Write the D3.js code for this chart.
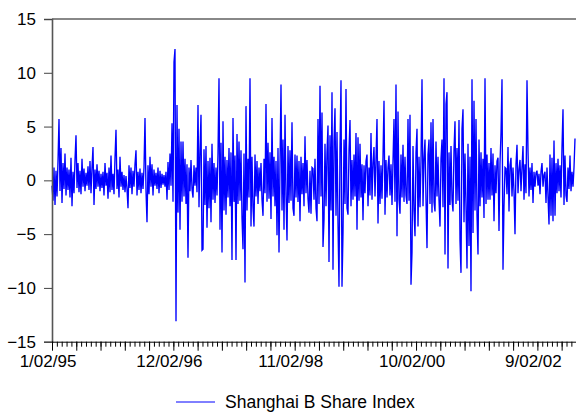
<!DOCTYPE html>
<html>
<head>
<meta charset="utf-8">
<script src="https://cdn.jsdelivr.net/npm/d3@7/dist/d3.min.js"></script>
<style>
  html, body { margin: 0; padding: 0; background: #fff; }
  svg { display: block; font-family: "Liberation Sans", Arial, sans-serif; }
</style>
</head>
<body>
<svg id="chart" width="576" height="417"></svg>
<script>
// Daily returns of the Shanghai B Share Index (percent), one value per
// block of trading days, 1/02/95 onward.
const seriesName = "Shanghai B Share Index";
const returns = [
  // 1995 - late 1996
  -0.5,-1.9,1.2,-2.3,0.9,-1.5,1.8,5.7,-1.0,3.0,
  -2.1,1.6,-0.8,2.5,-1.4,1.2,-0.9,1.0,-1.6,2.1,
  -2.4,0.8,-1.2,1.9,4.2,-0.7,1.6,-1.1,0.9,-1.3,
  2.0,-0.6,1.1,-1.0,0.7,-0.5,1.3,-0.9,1.8,-1.2,
  1.2,3.1,-2.3,1.0,-0.8,1.5,-0.6,0.9,-1.0,0.6,
  -0.7,0.8,-1.4,1.6,-0.5,0.7,-1.7,1.2,-1.1,2.3,
  -0.9,0.6,-1.3,2.1,4.7,-0.8,1.0,-1.6,2.2,-0.6,
  0.8,-0.9,0.5,-1.1,0.4,-0.8,-2.6,1.4,-0.7,1.2,
  -1.3,0.9,-0.6,1.5,2.8,-1.4,0.8,-0.9,1.1,-1.2,
  0.7,-0.8,1.2,5.8,-1.0,-3.9,1.4,-1.3,2.2,-0.6,
  1.5,-1.4,1.0,-0.5,0.7,-0.8,1.2,-1.2,0.9,-0.7,
  0.6,-0.4,0.5,-0.6,0.8,-1.8,1.7,-0.9,2.5,-0.5,
  // December 1996 shock
  5.3,-2.0,11.0,12.2,-13.1,7.0,-3.0,4.8,-4.6,3.6,-2.0,
  // 1997 - 1998
  3.6,-1.5,2.0,-2.2,1.5,-7.2,1.2,-1.0,1.9,-0.8,
  -1.6,1.4,-0.5,1.2,-1.1,7.0,-2.5,2.8,6.1,-6.5,
  -6.4,2.9,-2.3,3.2,-4.4,1.8,-2.6,2.1,-3.9,3.4,
  -1.8,1.6,-2.1,1.2,-1.4,2.5,9.5,-4.6,3.5,-6.7,
  5.5,-2.8,2.2,-3.2,1.9,-1.6,3.0,-2.4,2.6,-7.4,
  5.8,-2.0,2.3,-7.4,4.3,-2.2,3.6,-1.9,2.8,-3.5,
  -6.4,2.5,-9.5,6.9,-2.8,2.0,-1.6,9.5,-4.3,2.2,
  -2.5,-4.3,2.4,-1.5,1.8,-2.2,1.2,-1.0,1.6,-1.8,
  -3.3,2.0,-1.2,7.1,-2.0,3.5,-1.7,2.6,-3.6,5.8,
  -1.5,2.2,-2.4,1.8,-5.1,3.0,-6.7,1.5,8.9,-2.8,
  3.8,-4.6,6.1,-1.4,-5.6,3.2,-2.1,2.8,-1.9,5.4,
  -2.6,-3.3,2.4,-1.6,2.3,-2.0,1.8,-3.8,2.2,-1.3,
  1.6,-2.4,4.1,-1.2,1.9,-1.7,-3.0,
  // 1999 - 2000
  0.9,-3.1,1.2,1.1,-1.8,2.0,-2.6,-3.8,5.7,-2.2,
  8.8,-1.5,6.3,-6.2,-3.7,3.4,-2.4,2.6,5.1,-7.6,
  4.2,-2.8,8.2,-8.3,3.6,6.7,-3.3,4.5,-4.0,-9.9,
  3.0,9.3,-9.9,-4.9,3.8,-2.2,8.5,-2.6,-3.2,2.8,
  5.6,-2.4,1.9,-1.8,2.4,-1.5,4.4,-4.6,4.0,-1.9,
  3.4,-1.6,1.5,-3.7,1.4,-1.2,1.8,2.4,-2.4,1.2,
  -1.4,4.4,-1.8,1.6,3.1,-1.5,2.0,5.7,-4.0,1.8,
  -2.2,1.4,-1.7,2.2,7.4,-3.2,1.9,-1.6,1.2,2.3,
  -1.4,1.5,-2.3,1.8,5.7,-2.0,8.9,-5.2,6.4,-1.8,
  -3.1,2.4,-1.6,3.3,-2.0,2.2,-1.4,-2.2,5.7,-1.9,
  6.1,-9.7,-6.7,3.2,-2.8,-5.2,2.6,4.8,-4.3,2.2,
  -2.5,1.8,9.4,-2.4,2.0,3.8,-1.8,-6.3,2.4,3.8,
  -2.2,5.4,-3.0,5.7,-2.0,-2.9,3.6,-1.5,2.2,-1.8,
  -4.3,2.0,
  // 2001 - early 2003
  3.8,-2.5,9.5,-6.9,7.1,8.2,-8.2,2.6,-2.3,3.2,
  -1.8,-2.9,2.8,5.5,-2.2,3.0,-1.9,5.6,-5.6,-8.6,
  4.8,6.6,-3.9,2.5,-2.4,-8.2,3.4,-6.1,2.2,-10.3,
  9.4,-4.9,7.4,-2.8,5.7,-3.2,-6.9,3.8,-2.4,2.6,
  -1.6,2.0,-3.5,9.5,-2.2,2.4,-1.8,1.6,-1.8,3.0,
  -1.4,2.5,-3.8,1.4,-1.2,1.8,2.1,-4.7,1.6,4.4,
  9.4,-8.3,-2.4,1.2,1.1,-1.3,3.1,-2.9,1.4,2.1,
  -1.5,1.2,-1.0,-5.0,1.5,3.3,-1.2,1.0,1.9,-1.0,
  1.2,3.2,-1.8,1.5,-1.2,9.3,2.8,-1.5,1.2,-0.9,
  1.6,-2.1,0.8,-0.6,0.7,0.9,-0.5,0.6,-1.3,0.8,
  1.6,-0.6,0.5,0.8,-2.1,1.2,-1.5,-4.1,2.4,-3.3,
  2.1,-3.8,3.7,-3.3,1.6,-1.2,2.0,-1.0,1.4,-1.6,
  3.1,6.6,-2.3,2.3,-1.4,-2.0,1.2,-0.8,2.3,-1.0,
  0.8,-0.6,1.2,3.9
];

// Number of trading-day observations covered by the sample
const nObs = 2156;

// Axis definitions
const yTicks = [-15, -10, -5, 0, 5, 10, 15];
const xLabelEvery = 500;
const xTickLabels = ["1/02/95", "12/02/96", "11/02/98", "10/02/00", "9/02/02"];

const svg = d3.select("#chart");
const plotLeft = 52, plotRight = 576, plotTop = 19, plotBottom = 341.7;

const x = d3.scaleLinear().domain([0, nObs - 1]).range([plotLeft, plotRight - 1]);
const y = d3.scaleLinear().domain([-15, 15]).range([plotBottom, plotTop]);

const data = returns.map((v, i) => ({
  obs: i * (nObs - 1) / (returns.length - 1),
  v
}));

// Top frame line
svg.append("line")
  .attr("x1", plotLeft).attr("x2", plotRight)
  .attr("y1", plotTop).attr("y2", plotTop)
  .attr("stroke", "#888").attr("stroke-width", 2);

// Series line
svg.append("path")
  .datum(data)
  .attr("fill", "none")
  .attr("stroke", "#0000ff")
  .attr("stroke-width", 1.35)
  .attr("stroke-linejoin", "miter")
  .attr("d", d3.line().x(d => x(d.obs)).y(d => y(d.v)));

// Left axis
const gy = svg.append("g")
  .attr("transform", `translate(${plotLeft},0)`)
  .call(d3.axisLeft(y).tickValues(yTicks).tickSize(8).tickPadding(8)
    .tickFormat(d3.format("d")));
gy.select(".domain").attr("stroke", "#555").attr("stroke-width", 1.6);
gy.selectAll(".tick line").attr("stroke", "#444");
gy.selectAll(".tick text")
  .attr("fill", "#000")
  .style("font-size", "17px")
  .style("font-family", "'Liberation Sans', Arial, sans-serif");

// Bottom axis: minor ticks every 20 obs, major every 100, labels every 500
const minorTicks = d3.range(0, nObs, 20);
const majorTicks = d3.range(0, nObs, 100);

const gxMinor = svg.append("g")
  .attr("transform", `translate(0,${plotBottom})`)
  .call(d3.axisBottom(x).tickValues(minorTicks).tickSize(5).tickFormat(""));
gxMinor.select(".domain").remove();
gxMinor.selectAll(".tick line").attr("stroke", "#000");

const gx = svg.append("g")
  .attr("transform", `translate(0,${plotBottom})`)
  .call(d3.axisBottom(x).tickValues(majorTicks).tickSize(9).tickPadding(4)
    .tickSizeOuter(0)
    .tickFormat(d => d % xLabelEvery === 0 ? xTickLabels[d / xLabelEvery] : ""));
gx.select(".domain").attr("stroke", "#000").attr("stroke-width", 1)
  .attr("d", `M${plotLeft},0.5H${plotRight}`);
gx.selectAll(".tick line").attr("stroke", "#000");
gx.selectAll(".tick text")
  .attr("fill", "#000")
  .attr("dx", -4.5)
  .style("font-size", "17px")
  .style("font-family", "'Liberation Sans', Arial, sans-serif");

// Legend
const legend = svg.append("g").attr("transform", "translate(0,402)");
legend.append("line")
  .attr("x1", 176).attr("x2", 215).attr("y1", 0).attr("y2", 0)
  .attr("stroke", "#0000ff").attr("stroke-width", 1);
legend.append("text")
  .attr("x", 225).attr("y", 0).attr("dy", "0.36em")
  .attr("fill", "#000")
  .style("font-size", "17.5px")
  .text(seriesName);
</script>
</body>
</html>
